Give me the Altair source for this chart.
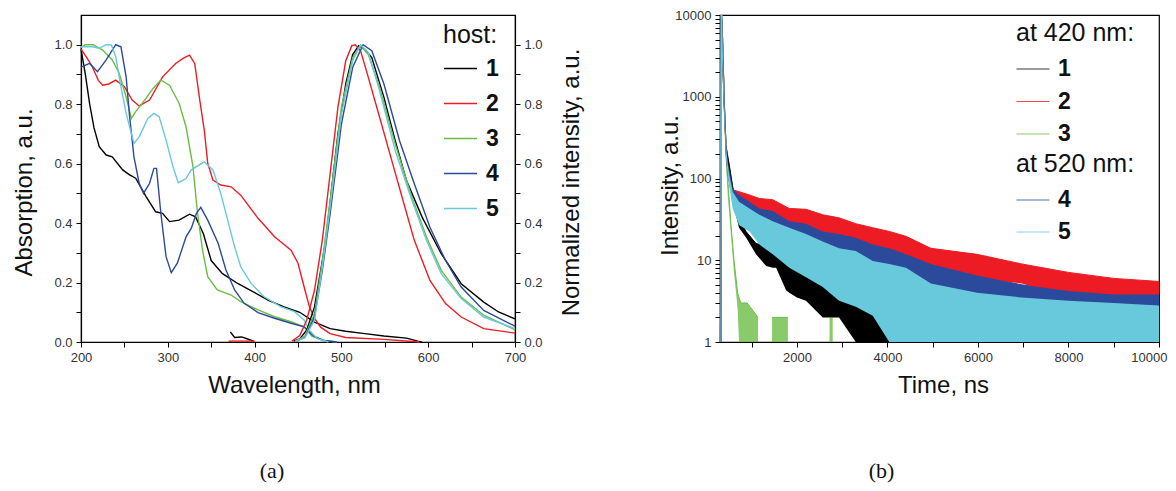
import altair as alt
import pandas as pd

HOSTS = ["1", "2", "3", "4", "5"]
COLORS = ["#000000", "#ed1c24", "#6cbd45", "#2b4a9c", "#68c8dc"]

# ---------------- (a) absorption spectra ----------------
abs1_wl = [200, 205, 210, 215, 221, 229, 236, 248, 256, 263, 275, 286, 294, 302, 313, 325, 332, 341, 350, 363, 381, 399, 416, 434, 452, 469, 487, 505, 527, 549, 575, 588, 593]
abs1_val = [0.985, 0.90, 0.80, 0.72, 0.657, 0.629, 0.623, 0.579, 0.562, 0.551, 0.489, 0.438, 0.433, 0.405, 0.41, 0.43, 0.421, 0.364, 0.274, 0.23, 0.196, 0.168, 0.14, 0.118, 0.10, 0.067, 0.045, 0.036, 0.028, 0.02, 0.013, 0.003, 0.0]

abs2_wl = [200, 207, 213, 220, 225, 232, 240, 250, 259, 267, 279, 294, 309, 318, 325, 331, 337, 342, 346, 352, 361, 373, 384, 404, 423, 442, 450, 457, 463, 469, 476, 487, 505, 549, 590]
abs2_val = [0.985, 0.955, 0.926, 0.88, 0.864, 0.868, 0.881, 0.859, 0.814, 0.794, 0.814, 0.892, 0.937, 0.955, 0.965, 0.937, 0.81, 0.713, 0.601, 0.545, 0.528, 0.522, 0.494, 0.416, 0.354, 0.309, 0.265, 0.186, 0.12, 0.08, 0.05, 0.028, 0.015, 0.009, 0.0]

abs3_wl = [200, 205, 214, 225, 236, 244, 252, 258, 263, 275, 283, 292, 302, 313, 321, 329, 334, 340, 346, 357, 373, 384, 404, 423, 442, 457, 466, 478, 495]
abs3_val = [0.99, 1.0, 1.0, 0.982, 0.949, 0.904, 0.825, 0.752, 0.775, 0.82, 0.853, 0.881, 0.864, 0.803, 0.724, 0.59, 0.44, 0.309, 0.22, 0.175, 0.158, 0.136, 0.108, 0.085, 0.068, 0.051, 0.02, 0.006, 0.0]

abs4_wl = [200, 210, 219, 229, 240, 246, 252, 256, 261, 267, 272, 279, 284, 287, 292, 298, 304, 311, 321, 327, 333, 338, 346, 358, 367, 377, 388, 404, 423, 442, 457, 468, 480, 495]
abs4_val = [0.925, 0.937, 0.909, 0.949, 1.0, 0.993, 0.892, 0.758, 0.623, 0.534, 0.5, 0.534, 0.584, 0.584, 0.433, 0.287, 0.233, 0.265, 0.354, 0.382, 0.433, 0.453, 0.41, 0.332, 0.242, 0.175, 0.13, 0.099, 0.08, 0.063, 0.051, 0.02, 0.005, 0.0]

abs5_wl = [200, 213, 221, 229, 235, 240, 246, 252, 258, 261, 267, 277, 284, 290, 298, 306, 312, 321, 327, 342, 352, 361, 369, 377, 384, 396, 411, 430, 446, 457, 463, 472, 485]
abs5_val = [0.993, 0.993, 0.988, 1.0, 0.999, 0.96, 0.859, 0.769, 0.702, 0.668, 0.69, 0.752, 0.769, 0.758, 0.679, 0.59, 0.536, 0.55, 0.579, 0.606, 0.579, 0.5, 0.41, 0.32, 0.253, 0.197, 0.152, 0.119, 0.102, 0.074, 0.04, 0.012, 0.0]

# ---------------- (a) normalized emission spectra ----------------
em1_wl = [445, 452, 460, 469, 482, 496, 505, 513, 520, 527, 535, 549, 562, 575, 593, 615, 638, 664, 681, 700]
em1_val = [0.003, 0.01, 0.04, 0.118, 0.342, 0.70, 0.868, 0.967, 0.997, 0.985, 0.957, 0.823, 0.677, 0.543, 0.42, 0.297, 0.196, 0.134, 0.101, 0.078]
em1b_wl = [372, 377, 385, 392, 399]
em1b_val = [0.034, 0.015, 0.017, 0.01, 0.003]

em2_wl = [443, 452, 460, 469, 478, 487, 496, 505, 512, 516, 522, 531, 544, 557, 571, 584, 602, 620, 638, 664, 700]
em2_val = [0.003, 0.022, 0.073, 0.174, 0.342, 0.566, 0.79, 0.946, 0.997, 1.0, 0.98, 0.89, 0.756, 0.621, 0.476, 0.342, 0.207, 0.129, 0.084, 0.045, 0.03]
em2b_wl = [370, 400]
em2b_val = [0.003, 0.003]

em3_wl = [447, 458, 469, 478, 487, 500, 513, 522, 531, 544, 562, 580, 598, 615, 638, 664, 700]
em3_val = [0.003, 0.02, 0.095, 0.27, 0.476, 0.79, 0.957, 0.997, 0.967, 0.857, 0.666, 0.498, 0.353, 0.241, 0.151, 0.09, 0.041]

em4_wl = [448, 458, 469, 478, 487, 500, 513, 525, 535, 549, 567, 584, 602, 620, 638, 664, 700]
em4_val = [0.003, 0.015, 0.084, 0.24, 0.431, 0.733, 0.924, 1.0, 0.98, 0.868, 0.677, 0.532, 0.386, 0.274, 0.185, 0.106, 0.053]

em5_wl = [447, 458, 469, 478, 487, 500, 513, 522, 531, 544, 562, 580, 598, 615, 638, 664, 700]
em5_val = [0.003, 0.015, 0.073, 0.25, 0.453, 0.767, 0.946, 1.0, 0.974, 0.845, 0.644, 0.487, 0.342, 0.23, 0.146, 0.084, 0.045]

# ---------------- (b) decay curves: noise band (upper / lower envelope) ----------------
dec1_t = [310, 330, 345, 395, 433, 506, 580, 720, 875, 1096, 1320, 1465, 1540, 1760, 1830, 2000, 2200, 2570, 2930, 3300, 3675, 4410, 6000, 8000, 10000]
dec1_hi = [1, 10000, 9000, 900, 250, 146, 80, 33, 22.5, 16, 15, 14, 13, 11, 9.8, 8.5, 7.4, 6.2, 5.2, 4.3, 3.9, 3.5, 3, 3, 3]
dec1_lo = [1, 1, 3000, 600, 200, 100, 52, 25, 19, 11.8, 8.5, 8.1, 8.1, 4.3, 4, 3.5, 3.2, 2, 2, 1, 1, 1, 1, 1, 1]

dec2_t = [310, 330, 345, 395, 433, 470, 506, 580, 720, 950, 1170, 1465, 1830, 2200, 2570, 2930, 3300, 3675, 4040, 4410, 4960, 5980, 6970, 8000, 9000, 10000]
dec2_hi = [1, 10000, 9000, 800, 260, 160, 120, 73, 69, 63, 57, 55, 43, 42, 36, 33, 28, 25, 22.5, 19.6, 14, 11.8, 9, 7.1, 6, 5.5]
dec2_lo = [1, 1, 3000, 500, 180, 110, 85, 55, 48, 40, 35, 30, 25, 22, 18, 16, 14, 12, 10, 9, 7.1, 6, 5.2, 3.5, 3.1, 3]

dec3_t = [310, 330, 345, 395, 433, 470, 543, 610, 654, 690, 720, 760, 900, 1140, 1450, 1800, 2720, 2790]
dec3_hi = [1, 10000, 9000, 900, 200, 100, 27, 10, 6, 4, 3.5, 3, 3, 2, 2, 2, 2, 2]
dec3_lo = [1, 1, 3000, 500, 150, 63, 20, 7, 4, 2.5, 1, 1, 1, 1, 1, 1, 1, 1]
dec3_seg = ["a", "a", "a", "a", "a", "a", "a", "a", "a", "a", "a", "a", "a", "a", "b", "b", "c", "c"]

dec4_t = [310, 330, 345, 395, 433, 470, 506, 580, 720, 950, 1170, 1465, 1830, 2200, 2570, 2930, 3300, 3675, 4040, 4410, 4960, 5980, 6970, 8000, 9000, 10000]
dec4_hi = [1, 10000, 9000, 800, 260, 160, 132, 75, 63, 52, 43, 40, 30, 28, 22.5, 21, 18.8, 15.6, 14, 11.8, 9, 6.5, 5, 4.2, 3.8, 3.8]
dec4_lo = [1, 1, 3000, 500, 180, 110, 85, 50, 35, 28, 23, 18, 14, 11, 9, 7, 6, 5, 4, 3.5, 2.5, 1, 1, 1, 1, 1]

dec5_t = [310, 322, 330, 345, 370, 395, 433, 470, 506, 580, 720, 950, 1170, 1465, 1830, 2200, 2570, 2930, 3300, 3675, 4040, 4410, 4960, 5980, 6970, 8000, 9000, 10000]
dec5_hi = [1, 10000, 10000, 10000, 2500, 800, 250, 150, 110, 69, 52, 43, 36, 30, 25, 21, 17, 14, 13, 9.8, 9, 8.1, 5.2, 4.0, 3.5, 3.2, 3.0, 2.8]
dec5_lo = [1, 1, 1, 3000, 1200, 500, 180, 110, 80, 43, 27, 22.5, 15.6, 11.8, 8.1, 6.2, 4.7, 3.2, 2.7, 2.1, 1, 1, 1, 1, 1, 1, 1, 1]

# axis tick values
WL_TICKS = list(range(200, 701, 50))
AB_TICKS = [round(i * 0.1, 1) for i in range(0, 11)]
T_TICKS = list(range(1000, 10001, 1000))
LOG_TICKS = [d * m for d in [1, 10, 100, 1000] for m in range(1, 10)] + [10000]

FONT = "Liberation Sans"


def spectra(parts, col):
    rows = []
    for host, part, xs, ys in parts:
        for x, y in zip(xs, ys):
            rows.append({"host": host, "part": part, "wl": x, col: y})
    return pd.DataFrame(rows)


abs_df = spectra([
    ("1", "a", abs1_wl, abs1_val), ("2", "a", abs2_wl, abs2_val), ("3", "a", abs3_wl, abs3_val),
    ("4", "a", abs4_wl, abs4_val), ("5", "a", abs5_wl, abs5_val)], "val")
em_df = spectra([
    ("1", "b", em1b_wl, em1b_val), ("2", "b", em2b_wl, em2b_val),
    ("1", "a", em1_wl, em1_val), ("2", "a", em2_wl, em2_val), ("3", "a", em3_wl, em3_val),
    ("4", "a", em4_wl, em4_val), ("5", "a", em5_wl, em5_val)], "val")


def decay(host, ts, his, los, segs=None):
    segs = segs or ["a"] * len(ts)
    return pd.DataFrame({"s": host, "t": ts, "hi": his, "lo": los, "seg": segs})


d1 = decay("1", dec1_t, dec1_hi, dec1_lo)
d2 = decay("2", dec2_t, dec2_hi, dec2_lo)
d3 = decay("3", dec3_t, dec3_hi, dec3_lo, dec3_seg)
d4 = decay("4", dec4_t, dec4_hi, dec4_lo)
d5 = decay("5", dec5_t, dec5_hi, dec5_lo)
dA = pd.concat([d1, d2, d3])
dB = pd.concat([d4, d5])

# ---------------- legends ----------------
legend_common = dict(
    orient="none", symbolType="stroke", symbolSize=1089,
    labelFont=FONT, labelFontSize=23, labelFontWeight="bold", labelColor="#111",
    titleFont=FONT, titleFontSize=25, titleFontWeight="normal", titleColor="#111",
    labelOffset=8, padding=0,
)

host_scale = alt.Scale(domain=HOSTS, range=COLORS)
host_legend = alt.Legend(title="host:", legendX=362, legendY=8, titlePadding=3, rowPadding=5,
                         symbolStrokeWidth=1.5, **legend_common)

# ---------------- panel (a) ----------------
x_wl = alt.X(
    "wl:Q", scale=alt.Scale(domain=[200, 700], nice=False, zero=False),
    axis=alt.Axis(title="Wavelength, nm", values=WL_TICKS, format="d",
                  labelExpr="datum.value % 100 == 0 ? datum.label : ''",
                  titleX=213, titleY=50, titleAlign="center", titleBaseline="alphabetic"),
)

abs_layer = alt.Chart(abs_df).mark_line(strokeWidth=1.4).encode(
    x=x_wl,
    y=alt.Y("val:Q", scale=alt.Scale(domain=[0, 1.1], nice=False),
            axis=alt.Axis(title="Absorption, a.u.", orient="left", values=AB_TICKS, format=".1f",
                          labelExpr="round(datum.value * 10) % 2 == 0 ? datum.label : ''",
                          titleAngle=270, titleX=-57, titleY=177, titleAlign="center",
                          titleBaseline="middle")),
    color=alt.Color("host:N", scale=host_scale, legend=host_legend),
    detail="part:N",
)

em_layer = alt.Chart(em_df).mark_line(strokeWidth=1.4).encode(
    x=x_wl,
    y=alt.Y("val:Q", scale=alt.Scale(domain=[0, 1.1], nice=False),
            axis=alt.Axis(title="Normalized intensity, a.u.", orient="right", values=AB_TICKS, format=".1f",
                          labelExpr="round(datum.value * 10) % 2 == 0 ? datum.label : ''",
                          titleAngle=270, titleX=56, titleY=167, titleAlign="center",
                          titleBaseline="middle")),
    color=alt.Color("host:N", scale=host_scale, legend=host_legend),
    detail="part:N",
)

panel_a = alt.layer(abs_layer, em_layer).resolve_scale(y="independent").properties(
    width=434, height=327,
    title=alt.TitleParams("(a)", orient="bottom", anchor="middle", frame="group", dx=-26, offset=64,
                          font="Liberation Serif", fontSize=22, fontWeight="normal", color="#111"),
)

# ---------------- panel (b) ----------------
x_t = alt.X(
    "t:Q", scale=alt.Scale(domain=[300, 10000], nice=False, zero=False),
    axis=alt.Axis(title="Time, ns", values=T_TICKS, format="d",
                  labelExpr="datum.value % 2000 == 0 ? datum.label : ''",
                  labelFlush=True, labelFlushOffset=8,
                  titleX=223, titleY=50, titleAlign="center", titleBaseline="alphabetic"),
)
y_scale = alt.Scale(type="log", domain=[1, 10000], nice=False)
y_axis = alt.Axis(title="Intensity, a.u.", values=LOG_TICKS, format="d",
                  labelExpr="indexof([1,10,100,1000,10000], datum.value) >= 0 ? datum.label : ''",
                  titleAngle=270, titleX=-50, titleY=170, titleAlign="center", titleBaseline="middle")

scale_A = alt.Scale(domain=HOSTS[:3], range=COLORS[:3])
scale_B = alt.Scale(domain=HOSTS[3:], range=COLORS[3:])

# thin lines along the upper envelope carry the two legends (stroke channel)
line_A = alt.Chart(dA).mark_line(strokeWidth=1).encode(
    x=x_t, y=alt.Y("hi:Q", scale=y_scale, axis=y_axis),
    stroke=alt.Stroke("s:N", scale=scale_A,
                      legend=alt.Legend(title="at 420 nm:", legendX=296, legendY=6, titlePadding=6,
                                        rowPadding=3.5, symbolStrokeWidth=0.8, **legend_common)),
    detail="seg:N",
)
line_B = alt.Chart(dB).mark_line(strokeWidth=1).encode(
    x=x_t, y=alt.Y("hi:Q", scale=y_scale, axis=y_axis),
    stroke=alt.Stroke("s:N", scale=scale_B,
                      legend=alt.Legend(title="at 520 nm:", legendX=296, legendY=137, titlePadding=6,
                                        rowPadding=3, symbolStrokeWidth=0.8, **legend_common)),
    detail="seg:N",
)


def band(df, scale, opacity=1.0):
    return alt.Chart(df).mark_area(opacity=opacity).encode(
        x=x_t, y=alt.Y("hi:Q", scale=y_scale, axis=y_axis), y2="lo:Q",
        fill=alt.Fill("s:N", scale=scale, legend=None),
        detail="seg:N",
    )


panel_b = alt.layer(
    line_A, line_B,
    band(d1, scale_A), band(d3, scale_A, 0.8), band(d2, scale_A),
    band(d4, scale_B), band(d5, scale_B),
).resolve_scale(stroke="independent", fill="independent").properties(
    width=439, height=327,
    title=alt.TitleParams("(b)", orient="bottom", anchor="middle", frame="group", dx=-58, offset=64,
                          font="Liberation Serif", fontSize=22, fontWeight="normal", color="#111"),
)

chart = alt.hconcat(panel_a, panel_b, spacing=205, bounds="flush").properties(
    padding={"left": 3, "top": 0, "right": 0, "bottom": 0},
).configure_view(stroke="#000", strokeWidth=1.2).configure_axis(
    labelFont=FONT, labelFontSize=13, labelColor="#333", labelPadding=4, labelFlush=False,
    titleFont=FONT, titleFontSize=24, titleFontWeight="normal", titleColor="#111",
    domainColor="#000", domainWidth=1.2, tickColor="#000", tickSize=5, grid=False,
).configure_title(font="Liberation Serif")

chart.save("out.html", embed_options={"renderer": "svg", "actions": False})
